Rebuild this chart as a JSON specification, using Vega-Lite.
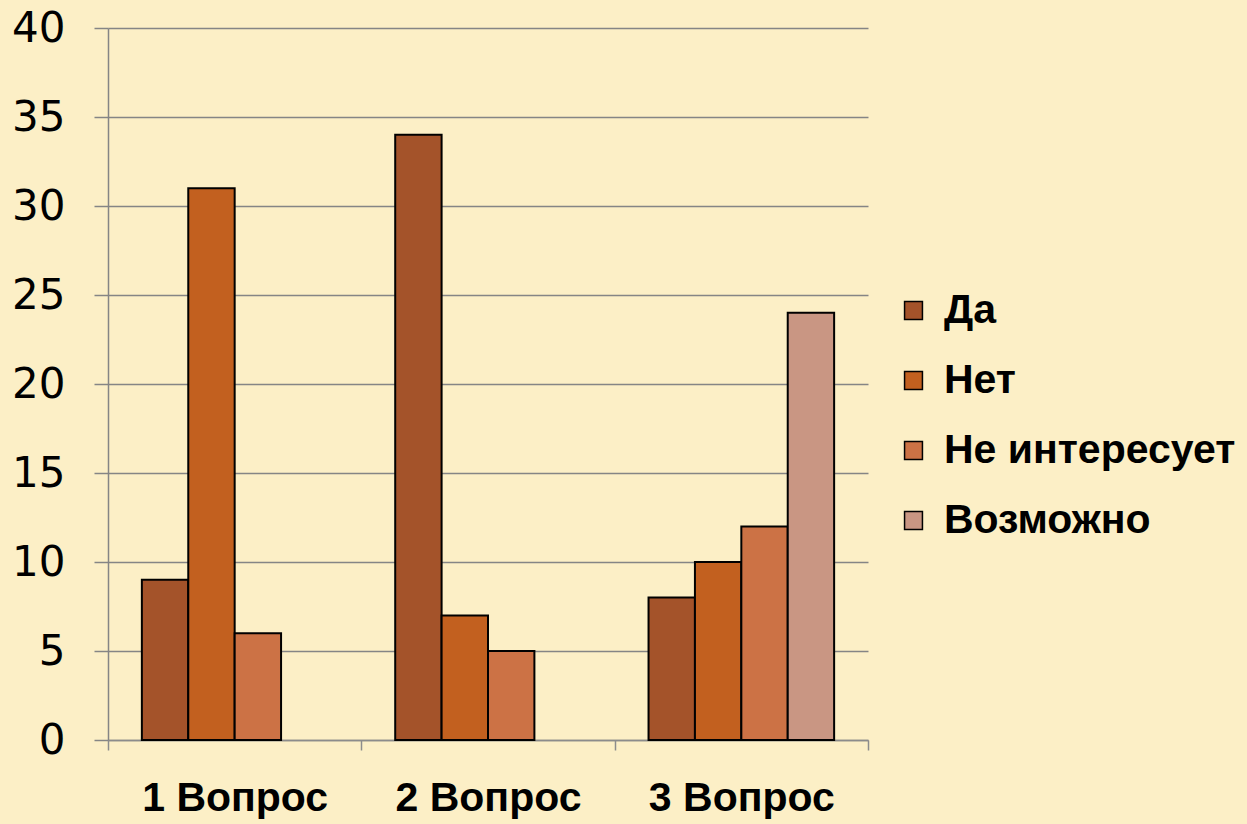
{
  "$schema": "https://vega.github.io/schema/vega-lite/v6.json",
  "autosize": {"type": "none"},
  "padding": {"left": 108, "top": 28, "right": 379, "bottom": 84},
  "width": 760,
  "height": 712,
  "background": "#fcefc6",
  "data": {
    "values": [
      {"q": "1 Вопрос", "cat": "Да", "value": 9},
      {"q": "1 Вопрос", "cat": "Нет", "value": 31},
      {"q": "1 Вопрос", "cat": "Не интересует", "value": 6},
      {"q": "2 Вопрос", "cat": "Да", "value": 34},
      {"q": "2 Вопрос", "cat": "Нет", "value": 7},
      {"q": "2 Вопрос", "cat": "Не интересует", "value": 5},
      {"q": "3 Вопрос", "cat": "Да", "value": 8},
      {"q": "3 Вопрос", "cat": "Нет", "value": 10},
      {"q": "3 Вопрос", "cat": "Не интересует", "value": 12},
      {"q": "3 Вопрос", "cat": "Возможно", "value": 24}
    ]
  },
  "mark": {"type": "bar", "stroke": "#000000", "strokeWidth": 2},
  "encoding": {
    "x": {
      "field": "q",
      "type": "nominal",
      "sort": ["1 Вопрос", "2 Вопрос", "3 Вопрос"],
      "scale": {"paddingInner": 0, "paddingOuter": 0},
      "axis": {
        "title": null,
        "labelAngle": 0,
        "labelLimit": 0,
        "tickBand": "extent",
        "domainColor": "#8c8c8c",
        "domainWidth": 1.5,
        "tickColor": "#8c8c8c",
        "tickWidth": 1.5,
        "tickSize": 10,
        "labelPadding": 28,
        "labelFont": "Liberation Sans",
        "labelFontWeight": "bold",
        "labelFontSize": 41,
        "labelColor": "#000000"
      }
    },
    "xOffset": {
      "field": "cat",
      "type": "nominal",
      "sort": ["Да", "Нет", "Не интересует", "Возможно"],
      "scale": {"paddingInner": 0, "paddingOuter": 0.73}
    },
    "y": {
      "field": "value",
      "type": "quantitative",
      "scale": {"domain": [0, 40], "nice": false},
      "axis": {
        "title": null,
        "values": [0, 5, 10, 15, 20, 25, 30, 35, 40],
        "grid": true,
        "gridColor": "#858585",
        "gridWidth": 1.5,
        "domainColor": "#858585",
        "domainWidth": 1.5,
        "tickColor": "#858585",
        "tickWidth": 1.5,
        "tickSize": 14,
        "labelPadding": 29,
        "labelFont": "DejaVu Sans",
        "labelFontSize": 42,
        "labelColor": "#000000"
      }
    },
    "color": {
      "field": "cat",
      "type": "nominal",
      "sort": ["Да", "Нет", "Не интересует", "Возможно"],
      "scale": {
        "domain": ["Да", "Нет", "Не интересует", "Возможно"],
        "range": ["#a4532a", "#c2601f", "#cc7245", "#c99683"]
      },
      "legend": {
        "title": null,
        "orient": "none",
        "legendX": 785,
        "legendY": 262,
        "padding": 0,
        "symbolType": "square",
        "symbolSize": 320,
        "symbolStrokeColor": "#000000",
        "symbolStrokeWidth": 1.5,
        "labelFont": "Liberation Sans",
        "labelFontWeight": "bold",
        "labelFontSize": 41,
        "labelColor": "#000000",
        "labelOffset": 10,
        "rowPadding": 28,
        "labelLimit": 0
      }
    }
  },
  "config": {
    "view": {"stroke": null}
  }
}
